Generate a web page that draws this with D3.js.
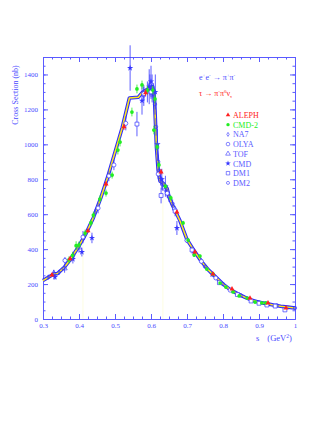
<!DOCTYPE html>
<html>
<head>
<meta charset="utf-8">
<script src="https://cdn.jsdelivr.net/npm/d3@7"></script>
<style>
  body { margin: 0; background: #fff; }
  text { font-family: "Liberation Serif", "DejaVu Serif", serif; }
</style>
</head>
<body>
<div id="chart"></div>
<script>
// axis ticks
var xTicks = [0.3, 0.4, 0.5, 0.6, 0.7, 0.8, 0.9, 1.0];
var xTickLabels = ["0.3", "0.4", "0.5", "0.6", "0.7", "0.8", "0.9", "1"];
var yTicks = [0, 200, 400, 600, 800, 1000, 1200, 1400];

// fit band (s in GeV^2, cross section in nb)
var curveS = [0.30, 0.33, 0.34, 0.36, 0.375, 0.40, 0.42, 0.44, 0.46, 0.48, 0.50, 0.52, 0.54, 0.565,
  0.575, 0.59, 0.605, 0.61, 0.615, 0.62, 0.625, 0.635, 0.645, 0.65, 0.66, 0.68, 0.70, 0.72, 0.74,
  0.76, 0.78, 0.80, 0.82, 0.84, 0.86, 0.88, 0.90, 0.92, 0.94, 0.96, 0.98, 1.00];
var curveSigma = [220, 258, 260, 298, 338, 418, 492, 580, 690, 815, 955, 1095, 1265, 1270,
  1295, 1315, 1330, 1250, 990, 850, 790, 775, 745, 700, 650, 565, 455, 390, 330,
  280, 240, 200, 168, 145, 125, 108, 96, 88, 80, 73, 68, 63];
// faint vertical markers
var markerS = [0.411, 0.633];

// data points: [s, sigma, error]
var aleph = [[0.325, 252, 8], [0.375, 345, 10], [0.425, 505, 12], [0.475, 773, 15], [0.525, 1100, 18],
  [0.585, 1295, 20], [0.628, 842, 15], [0.672, 612, 12], [0.722, 384, 8], [0.772, 258, 6],
  [0.825, 172, 5], [0.875, 120, 4], [0.925, 92, 3], [0.975, 63, 3]];
var cmd2 = [[0.372, 338, 20], [0.382, 365, 20], [0.392, 420, 25], [0.400, 424, 20], [0.417, 492, 20],
  [0.433, 550, 20], [0.440, 595, 20], [0.458, 687, 20], [0.475, 721, 20], [0.492, 824, 20],
  [0.508, 967, 25], [0.514, 1013, 25], [0.547, 1185, 25], [0.561, 1317, 25], [0.575, 1340, 25],
  [0.590, 1310, 25], [0.605, 1311, 25], [0.611, 1260, 25], [0.608, 1082, 25], [0.617, 985, 20],
  [0.622, 882, 20], [0.640, 760, 15], [0.655, 693, 15], [0.689, 550, 12], [0.703, 452, 12],
  [0.720, 366, 10], [0.736, 360, 10], [0.755, 286, 8], [0.772, 258, 8], [0.792, 206, 6],
  [0.808, 183, 6], [0.828, 155, 5], [0.845, 132, 5], [0.867, 120, 4], [0.889, 97, 4],
  [0.908, 92, 4], [0.919, 92, 4]];
var na7 = [[0.315, 240, 10], [0.345, 268, 12], [0.385, 362, 15], [0.415, 470, 18], [0.445, 610, 20]];
var olya = [[0.361, 335, 20], [0.411, 469, 35], [0.453, 635, 30], [0.483, 819, 30], [0.497, 882, 30],
  [0.530, 1120, 40], [0.580, 1290, 40], [0.600, 1300, 40], [0.620, 830, 30], [0.645, 720, 25],
  [0.665, 630, 20], [0.700, 450, 15], [0.740, 330, 12], [0.780, 235, 10], [0.820, 165, 8]];
var tof = [[0.330, 262, 20], [0.360, 290, 25], [0.400, 410, 30]];
var cmd = [[0.333, 240, 15], [0.383, 343, 25], [0.408, 383, 25], [0.436, 464, 30], [0.542, 1437, 130],
  [0.575, 1250, 80], [0.595, 1330, 100], [0.600, 1360, 90], [0.612, 1300, 100], [0.618, 1000, 90],
  [0.630, 800, 60], [0.640, 760, 60], [0.672, 521, 40], [0.720, 380, 25], [0.770, 255, 15]];
var dm1 = [[0.561, 1116, 70], [0.628, 707, 45], [0.667, 618, 30], [0.714, 395, 20], [0.790, 208, 10],
  [0.840, 140, 8], [0.878, 103, 6], [0.900, 90, 6], [0.922, 80, 6], [0.945, 74, 5], [0.972, 52, 6]];
var dm2 = [[0.580, 1280, 60], [0.590, 1300, 60], [0.597, 1340, 60], [0.603, 1320, 80], [0.607, 1290, 60],
  [0.611, 1230, 60], [0.614, 1100, 50], [0.617, 980, 40], [0.620, 900, 40], [0.623, 850, 40],
  [0.627, 800, 35], [0.632, 770, 35], [0.640, 740, 30], [0.650, 700, 30], [0.660, 660, 25],
  [0.700, 450, 15], [0.750, 300, 10], [0.800, 200, 8], [0.850, 135, 6], [0.900, 96, 5],
  [0.950, 78, 5], [1.000, 63, 4]];

var legendNames = ["ALEPH", "CMD-2", "NA7", "OLYA", "TOF", "CMD", "DM1", "DM2"];

var blue = "#3636ff";
var axisBlue = "#5a5aff";
var red = "#ff2020";
var green = "#22ee22";

var svgWidth = 327, svgHeight = 423;
var margin = { top: 57, left: 43, right: 32, bottom: 104 };
var width = svgWidth - margin.left - margin.right;
var height = svgHeight - margin.top - margin.bottom;

var svg = d3.select("#chart").append("svg")
  .attr("width", svgWidth)
  .attr("height", svgHeight);

var chartGroup = svg.append("g")
  .attr("transform", `translate(${margin.left}, ${margin.top})`);

var x = d3.scaleLinear().domain([0.3, 1.0]).range([0, width]);
var y = d3.scaleLinear().domain([0, 1500]).range([height, 0]);

// minor tick positions
var xMinor = d3.range(0.3, 1.0001, 0.025);
var yMinor = d3.range(0, 1501, 50);

function styleAxis(g) {
  g.selectAll("path").attr("stroke", axisBlue);
  g.selectAll("line").attr("stroke", axisBlue);
  g.selectAll("text").attr("fill", "#4a4aff").style("font-size", "7px")
    .style("font-family", "'Liberation Serif', serif");
}

// bottom axis
chartGroup.append("g")
  .attr("transform", `translate(0, ${height})`)
  .call(d3.axisBottom(x).tickValues(xMinor).tickSize(-2.5).tickSizeOuter(0).tickFormat(""))
  .call(styleAxis);
chartGroup.append("g")
  .attr("transform", `translate(0, ${height})`)
  .call(d3.axisBottom(x).tickValues(xTicks).tickSize(-5).tickSizeOuter(0).tickPadding(4)
    .tickFormat((d, i) => xTickLabels[i]))
  .call(styleAxis);

// top axis
chartGroup.append("g")
  .call(d3.axisTop(x).tickValues(xMinor).tickSize(-2.5).tickSizeOuter(0).tickFormat(""))
  .call(styleAxis);
chartGroup.append("g")
  .call(d3.axisTop(x).tickValues(xTicks).tickSize(-5).tickSizeOuter(0).tickFormat(""))
  .call(styleAxis);

// left axis
chartGroup.append("g")
  .call(d3.axisLeft(y).tickValues(yMinor).tickSize(-2.5).tickSizeOuter(0).tickFormat(""))
  .call(styleAxis);
chartGroup.append("g")
  .call(d3.axisLeft(y).tickValues(yTicks).tickSize(-5).tickSizeOuter(0).tickPadding(5)
    .tickFormat(d3.format("d")))
  .call(styleAxis);

// right axis
chartGroup.append("g")
  .attr("transform", `translate(${width}, 0)`)
  .call(d3.axisRight(y).tickValues(yMinor).tickSize(-2.5).tickSizeOuter(0).tickFormat(""))
  .call(styleAxis);
chartGroup.append("g")
  .attr("transform", `translate(${width}, 0)`)
  .call(d3.axisRight(y).tickValues(yTicks).tickSize(-5).tickSizeOuter(0).tickFormat(""))
  .call(styleAxis);

// faint vertical lines from the band down to the axis
var curveAt = d3.scaleLinear().domain(curveS).range(curveSigma);
chartGroup.selectAll(".vmark")
  .data(markerS)
  .enter()
  .append("line")
  .attr("x1", d => x(d))
  .attr("x2", d => x(d))
  .attr("y1", d => y(curveAt(d)))
  .attr("y2", height)
  .attr("stroke", "#fdfde2")
  .attr("stroke-width", 1);

// fit band: blue outline with yellow inside
var curvePoints = curveS.map((s, i) => [s, curveSigma[i]]);
var line = d3.line().x(d => x(d[0])).y(d => y(d[1]));

chartGroup.append("path")
  .datum(curvePoints)
  .attr("d", line)
  .attr("fill", "none")
  .attr("stroke", "#2a2aff")
  .attr("stroke-width", 3.6)
  .attr("stroke-linejoin", "round");

chartGroup.append("path")
  .datum(curvePoints)
  .attr("d", line)
  .attr("fill", "none")
  .attr("stroke", "#ffe81a")
  .attr("stroke-width", 1.5)
  .attr("stroke-linejoin", "round");

// marker drawing
var symbolFor = {
  ALEPH: { type: d3.symbolTriangle, size: 11, fill: red, stroke: "none", color: red },
  "CMD-2": { type: d3.symbolCircle, size: 11, fill: green, stroke: "none", color: green },
  NA7: { type: d3.symbolDiamond, size: 6, fill: "none", stroke: blue, color: blue },
  OLYA: { type: d3.symbolCircle, size: 13, fill: "#fff", stroke: blue, color: blue },
  TOF: { type: d3.symbolTriangle, size: 12, fill: "none", stroke: blue, color: blue },
  CMD: { type: d3.symbolStar, size: 12, fill: blue, stroke: "none", color: blue },
  DM1: { type: d3.symbolSquare, size: 15, fill: "#fff", stroke: blue, color: blue },
  DM2: { type: d3.symbolCircle, size: 9, fill: "none", stroke: blue, color: blue }
};

function drawSeries(name, data) {
  var st = symbolFor[name];
  var g = chartGroup.append("g");

  g.selectAll("line")
    .data(data)
    .enter()
    .append("line")
    .attr("x1", d => x(d[0]))
    .attr("x2", d => x(d[0]))
    .attr("y1", d => y(d[1] - d[2]))
    .attr("y2", d => y(d[1] + d[2]))
    .attr("stroke", st.color)
    .attr("stroke-width", 0.8);

  g.selectAll("path")
    .data(data)
    .enter()
    .append("path")
    .attr("transform", d => `translate(${x(d[0])}, ${y(d[1])})`)
    .attr("d", d3.symbol().type(st.type).size(st.size))
    .attr("fill", st.fill)
    .attr("stroke", st.stroke)
    .attr("stroke-width", 0.7);
}

drawSeries("DM2", dm2);
drawSeries("CMD", cmd);
drawSeries("NA7", na7);
drawSeries("TOF", tof);
drawSeries("OLYA", olya);
drawSeries("DM1", dm1);
drawSeries("CMD-2", cmd2);
drawSeries("ALEPH", aleph);

// axis titles
svg.append("text")
  .attr("transform", "translate(18, 95) rotate(-90)")
  .attr("text-anchor", "middle")
  .attr("fill", "#4a4aff")
  .style("font-size", "8px")
  .text("Cross Section  (nb)");

var xTitle = svg.append("text")
  .attr("x", 256)
  .attr("y", 341)
  .attr("fill", "#4a4aff")
  .style("font-size", "8.5px");
xTitle.append("tspan").text("s");
xTitle.append("tspan").attr("dx", 8).text("(GeV");
xTitle.append("tspan").attr("dy", -3).style("font-size", "5.5px").text("2");
xTitle.append("tspan").attr("dy", 3).text(")");

// process labels
var ee = svg.append("text")
  .attr("x", 199)
  .attr("y", 80)
  .attr("fill", "#4a4aff")
  .style("font-size", "8px");
ee.append("tspan").text("e");
ee.append("tspan").attr("dy", -3).style("font-size", "5px").text("+");
ee.append("tspan").attr("dy", 3).text("e");
ee.append("tspan").attr("dy", -3).style("font-size", "5px").text("-");
ee.append("tspan").attr("dy", 3).text(" \u2192 \u03c0");
ee.append("tspan").attr("dy", -3).style("font-size", "5px").text("+");
ee.append("tspan").attr("dy", 3).text("\u03c0");
ee.append("tspan").attr("dy", -3).style("font-size", "5px").text("-");

var tau = svg.append("text")
  .attr("x", 199)
  .attr("y", 96)
  .attr("fill", red)
  .style("font-size", "8px");
tau.append("tspan").text("\u03c4 \u2192 \u03c0");
tau.append("tspan").attr("dy", -3).style("font-size", "5px").text("-");
tau.append("tspan").attr("dy", 3).text("\u03c0");
tau.append("tspan").attr("dy", -3).style("font-size", "5px").text("0");
tau.append("tspan").attr("dy", 3).text("\u03bd");
tau.append("tspan").attr("dy", 2).style("font-size", "5px").text("\u03c4");

// legend
var legend = svg.append("g");
legendNames.forEach(function(name, i) {
  var st = symbolFor[name];
  var ly = 115 + i * 9.7;
  legend.append("path")
    .attr("transform", `translate(228, ${ly})`)
    .attr("d", d3.symbol().type(st.type).size(st.size * 0.8))
    .attr("fill", st.fill === "#fff" ? "none" : st.fill)
    .attr("stroke", st.stroke)
    .attr("stroke-width", 0.6);
  legend.append("text")
    .attr("x", 233)
    .attr("y", ly + 3)
    .attr("fill", name === "ALEPH" ? red : (name === "CMD-2" ? green : "#5a5aff"))
    .style("font-size", "8px")
    .text(name);
});
</script>
</body>
</html>
